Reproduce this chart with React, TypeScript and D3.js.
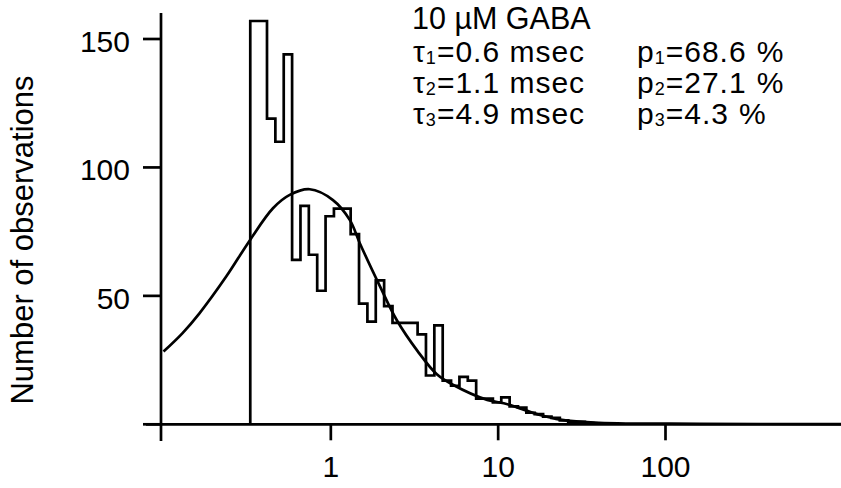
import React from "react";
import * as d3 from "d3";

// ---- data ----
const yTicks = [0, 50, 100, 150];
const yTickLabels = ["", "50", "100", "150"];
const xTicks = [0.1, 1, 10, 100];
const xTickLabels = ["", "1", "10", "100"];

// log-spaced histogram bins (ms), 20 bins per decade
const binStart = 0.33;
const binsPerDecade = 20;
const counts = [
  157, 157, 119, 110, 144, 64, 85, 66, 52, 81, 84, 84, 74, 47, 40, 56, 46,
  39.5, 39.5, 39.5, 35, 19, 38.5, 17, 15, 18.5, 17, 10, 10, 8.5, 10.5, 7, 6.5,
  4.5, 4, 3, 2.5, 1.5, 1, 1, 0.5,
];

// fitted curve (time ms, count)
const fitT = [
  0.1, 0.13, 0.164, 0.237, 0.327, 0.451, 0.568, 0.748, 1.03, 1.3, 1.49, 1.97,
  2.48, 3.3, 4.3, 5.4, 8.6, 10.8, 13.5, 17.8, 23.5, 40, 160, 1130,
];
const fitY = [
  28.3, 35.5, 43.2, 57.5, 71.5, 84.1, 89.3, 91.5, 87.3, 79.5, 70.5, 53.6, 40.5,
  28.5, 19.5, 15.3, 9.5, 8.2, 6.2, 3.6, 1.8, 0.6, 0.2, 0.1,
];

const title = "10 \u00B5M GABA";
const tauNames = ["1", "2", "3"];
const tauValues = ["0.6", "1.1", "4.9"];
const pValues = ["68.6", "27.1", "4.3"];
const yLabel = "Number of observations";

const W = 841;
const H = 488;
const FONT = "'Liberation Sans', Arial, Helvetica, sans-serif";

export default function App() {
  const x = d3.scaleLog().domain([0.1, 100]).range([163.5, 665.5]);
  const y = d3.scaleLinear().domain([0, 150]).range([424.3, 39]);

  const edges = d3.range(counts.length + 1).map(
    (i) => binStart * Math.pow(10, i / binsPerDecade)
  );

  // histogram step outline
  const pts: [number, number][] = [[x(edges[0]), y(0)]];
  counts.forEach((c, i) => {
    pts.push([x(edges[i]), y(c)]);
    pts.push([x(edges[i + 1]), y(c)]);
  });
  pts.push([x(edges[counts.length]), y(0)]);
  const histPath = d3.line()(pts) as string;

  const fitPts: [number, number][] = fitT.map((t, i) => [t, fitY[i]]);
  const fitPath = d3
    .line<[number, number]>()
    .x((d) => x(d[0]))
    .y((d) => y(d[1]))
    .curve(d3.curveCatmullRom.alpha(0.5))(fitPts) as string;

  const axisX = x(0.1) - 2.5;
  const sw = 2.7;
  const rowY = [62, 93, 124];

  return (
    <div style={{ position: "fixed", left: 0, top: 0 }}>
      <svg width={W} height={H} style={{ display: "block", background: "#fff" }}>
        <rect x={0} y={0} width={W} height={H} fill="#fff" />
        {/* y axis */}
        <line x1={axisX} x2={axisX} y1={13} y2={441} stroke="#000" strokeWidth={sw} />
        {yTicks.map((t, i) => (
          <g key={"yt" + i}>
            <line x1={axisX - 18} x2={axisX} y1={y(t)} y2={y(t)} stroke="#000" strokeWidth={sw} />
            <text
              x={130}
              y={y(t) + 5}
              textAnchor="end"
              dominantBaseline="middle"
              fontFamily={FONT}
              fontSize={30}
              fill="#000"
            >
              {yTickLabels[i]}
            </text>
          </g>
        ))}
        {/* x axis */}
        <line x1={146} x2={W} y1={y(0)} y2={y(0)} stroke="#000" strokeWidth={sw} />
        {xTicks.map((t, i) =>
          i === 0 ? null : (
            <g key={"xt" + i}>
              <line x1={x(t)} x2={x(t)} y1={y(0)} y2={y(0) + 16} stroke="#000" strokeWidth={sw} />
              <text
                x={x(t)}
                y={477}
                textAnchor="middle"
                fontFamily={FONT}
                fontSize={30}
                fill="#000"
              >
                {xTickLabels[i]}
              </text>
            </g>
          )
        )}
        {/* histogram */}
        <path d={histPath} fill="none" stroke="#000" strokeWidth={2.7} strokeLinejoin="miter" />
        {/* fit */}
        <path d={fitPath} fill="none" stroke="#000" strokeWidth={2.7} />
        {/* y label */}
        <text
          transform={`translate(33,${240}) rotate(-90)`}
          textAnchor="middle"
          fontFamily={FONT}
          fontSize={31}
          fill="#000"
        >
          {yLabel}
        </text>
        {/* annotation */}
        <text x={412} y={29} fontFamily={FONT} fontSize={30.5} fill="#000">
          {title}
        </text>
        {tauNames.map((n, i) => (
          <g key={"ann" + i}>
            <text x={413} y={rowY[i]} fontFamily={FONT} fontSize={30} letterSpacing={1} fill="#000">
              {"\u03C4"}
              <tspan fontSize={18} dy={2}>{n}</tspan>
              <tspan dy={-2}>{"=" + tauValues[i] + " msec"}</tspan>
            </text>
            <text x={637} y={rowY[i]} fontFamily={FONT} fontSize={30} letterSpacing={1} fill="#000">
              {"p"}
              <tspan fontSize={18} dy={2}>{n}</tspan>
              <tspan dy={-2}>{"=" + pValues[i]}</tspan>
              <tspan dx={10}>{"%"}</tspan>
            </text>
          </g>
        ))}
      </svg>
    </div>
  );
}
